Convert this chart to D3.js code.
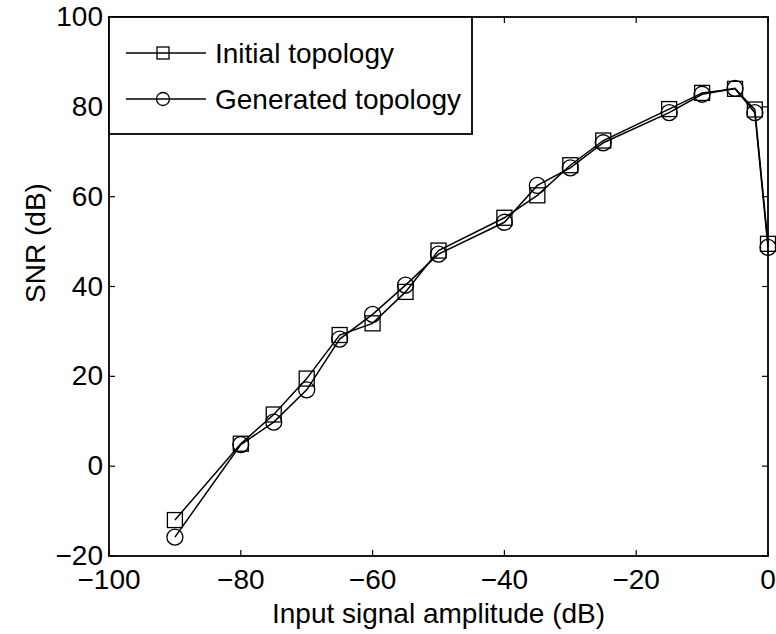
<!DOCTYPE html>
<html>
<head>
<meta charset="utf-8">
<script src="https://cdn.jsdelivr.net/npm/d3@7.9.0/dist/d3.min.js"></script>
<style>
  body { margin: 0; background: #fff; }
  svg text { font-family: "Liberation Sans", Arial, sans-serif; fill: #000; }
</style>
</head>
<body>
<svg id="chart" width="776" height="634"></svg>
<script>
const amplitudes = [-90, -80, -75, -70, -65, -60, -55, -50, -40, -35, -30, -25, -15, -10, -5, -2, 0];
const initialSnr = [-12, 5, 11.5, 19.5, 29.2, 31.8, 38.8, 48, 55.3, 60.3, 67, 72.5, 79.5, 83.1, 84, 79.4, 49.5];
const generatedSnr = [-15.8, 4.8, 9.8, 17, 28.3, 33.8, 40.3, 47.2, 54.3, 62.5, 66.4, 72, 78.7, 82.8, 84.1, 78.7, 48.7];
const xTicks = [-100, -80, -60, -40, -20, 0];
const yTicks = [-20, 0, 20, 40, 60, 80, 100];
const seriesNames = ['Initial topology', 'Generated topology'];

const plotLeft = 109, plotTop = 17, plotRight = 768, plotBottom = 556;
const fontSize = 28;

const svg = d3.select('#chart');
const x = d3.scaleLinear().domain([-100, 0]).range([plotLeft, plotRight]);
const y = d3.scaleLinear().domain([-20, 100]).range([plotBottom, plotTop]);

const fmt = (d) => (d < 0 ? '\u2212' + Math.abs(d) : String(d));

// ticks (inward, on all four sides)
const tickLen = 6;
const axes = svg.append('g').attr('stroke', '#000').attr('stroke-width', 1.2);
xTicks.forEach((t) => {
  axes.append('line').attr('x1', x(t)).attr('x2', x(t)).attr('y1', plotBottom).attr('y2', plotBottom - tickLen);
  axes.append('line').attr('x1', x(t)).attr('x2', x(t)).attr('y1', plotTop).attr('y2', plotTop + tickLen);
});
yTicks.forEach((t) => {
  axes.append('line').attr('x1', plotLeft).attr('x2', plotLeft + tickLen).attr('y1', y(t)).attr('y2', y(t));
  axes.append('line').attr('x1', plotRight).attr('x2', plotRight - tickLen).attr('y1', y(t)).attr('y2', y(t));
});

svg.selectAll('.xlab')
  .data(xTicks)
  .enter()
  .append('text')
  .attr('x', (d) => x(d))
  .attr('y', plotBottom + 33)
  .attr('text-anchor', 'middle')
  .attr('font-size', fontSize)
  .text(fmt);

svg.selectAll('.ylab')
  .data(yTicks)
  .enter()
  .append('text')
  .attr('x', plotLeft - 6)
  .attr('y', (d) => y(d) + 9)
  .attr('text-anchor', 'end')
  .attr('font-size', fontSize)
  .text(fmt);

svg.append('text')
  .attr('x', (plotLeft + plotRight) / 2)
  .attr('y', 623)
  .attr('text-anchor', 'middle')
  .attr('font-size', fontSize)
  .text('Input signal amplitude (dB)');

svg.append('text')
  .attr('transform', 'translate(45, 243) rotate(-90)')
  .attr('text-anchor', 'middle')
  .attr('font-size', fontSize)
  .text('SNR (dB)');

// data lines
const line = d3.line().x((d) => x(d[0])).y((d) => y(d[1]));
const initialPts = amplitudes.map((a, i) => [a, initialSnr[i]]);
const generatedPts = amplitudes.map((a, i) => [a, generatedSnr[i]]);

const sq = 15, rc = 8;

function drawSquares(g, pts, size) {
  g.selectAll('rect.m')
    .data(pts)
    .enter()
    .append('rect')
    .attr('x', (d) => x(d[0]) - size / 2)
    .attr('y', (d) => y(d[1]) - size / 2)
    .attr('width', size)
    .attr('height', size)
    .attr('fill', 'none')
    .attr('stroke', '#000')
    .attr('stroke-width', 1.3);
}

function drawCircles(g, pts, r) {
  g.selectAll('circle.m')
    .data(pts)
    .enter()
    .append('circle')
    .attr('cx', (d) => x(d[0]))
    .attr('cy', (d) => y(d[1]))
    .attr('r', r)
    .attr('fill', 'none')
    .attr('stroke', '#000')
    .attr('stroke-width', 1.3);
}

const plot = svg.append('g');
plot.append('path').datum(initialPts).attr('d', line).attr('fill', 'none').attr('stroke', '#000').attr('stroke-width', 1.5);
drawSquares(plot.append('g'), initialPts, sq);
plot.append('path').datum(generatedPts).attr('d', line).attr('fill', 'none').attr('stroke', '#000').attr('stroke-width', 1.5);
drawCircles(plot.append('g'), generatedPts, rc);

// frame
svg.append('rect')
  .attr('x', plotLeft).attr('y', plotTop)
  .attr('width', plotRight - plotLeft).attr('height', plotBottom - plotTop)
  .attr('fill', 'none').attr('stroke', '#000').attr('stroke-width', 1.8);

// legend
const legend = svg.append('g');
legend.append('rect')
  .attr('x', plotLeft).attr('y', plotTop)
  .attr('width', 363).attr('height', 117)
  .attr('fill', '#fff').attr('stroke', '#000').attr('stroke-width', 1.8);

const rowsY = [53, 99];
seriesNames.forEach((name, i) => {
  const ly = rowsY[i];
  legend.append('line')
    .attr('x1', 126).attr('x2', 206).attr('y1', ly).attr('y2', ly)
    .attr('stroke', '#000').attr('stroke-width', 1.5);
  if (i === 0) {
    legend.append('rect').attr('x', 163 - 6).attr('y', ly - 6).attr('width', 12).attr('height', 12)
      .attr('fill', 'none').attr('stroke', '#000').attr('stroke-width', 1.3);
  } else {
    legend.append('circle').attr('cx', 163).attr('cy', ly).attr('r', 6.5)
      .attr('fill', 'none').attr('stroke', '#000').attr('stroke-width', 1.3);
  }
  legend.append('text')
    .attr('x', 215).attr('y', ly + 10)
    .attr('font-size', fontSize)
    .text(name);
});
</script>
</body>
</html>
